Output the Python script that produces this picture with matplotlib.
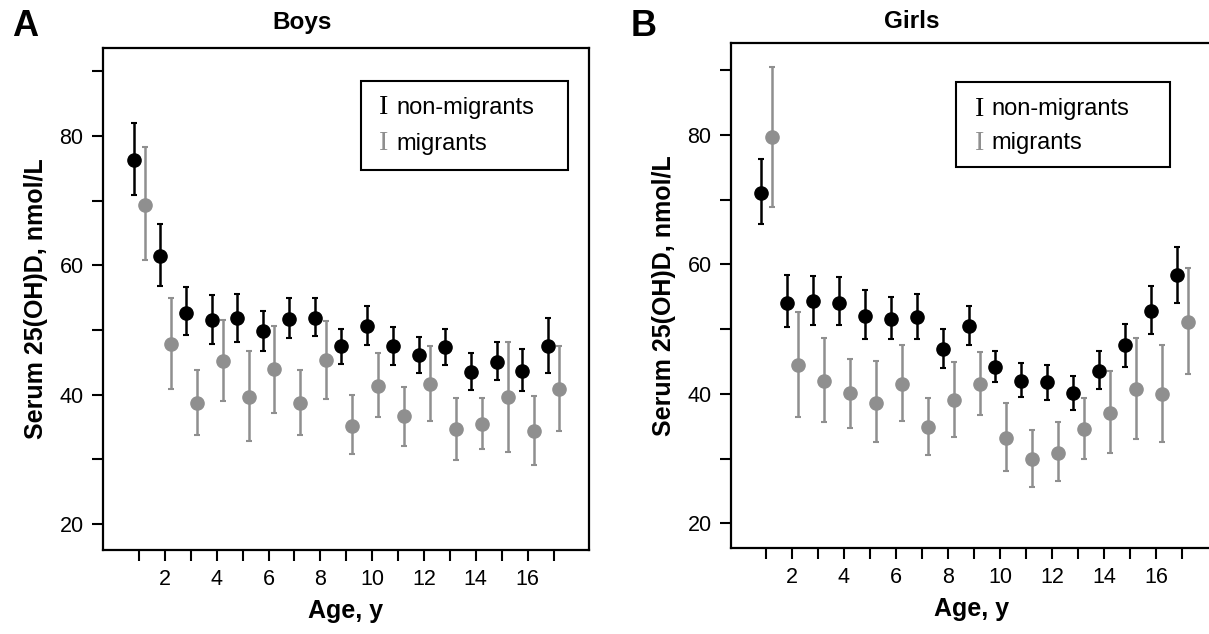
import matplotlib
matplotlib.use("Agg")
import matplotlib.pyplot as plt
from matplotlib.patches import Rectangle
import numpy as np

plt.rcParams['font.family'] = ['Liberation Sans', 'DejaVu Sans']

W, H = 1209, 634

ages = list(range(1, 18))
tick_labels = [str(a) if a % 2 == 0 else '' for a in ages]
y_ticks = [20, 30, 40, 50, 60, 70, 80, 90]
y_tick_labels = ['20', '', '40', '', '60', '', '80', '']

# Boys
boys_nm = [76.3, 61.5, 52.7, 51.5, 51.8, 49.9, 51.7, 51.8, 47.5, 50.6, 47.5, 46.1, 47.4, 43.5, 45.1, 43.7, 47.5]
boys_nm_lo = [70.8, 56.8, 49.2, 47.8, 48.1, 46.7, 48.8, 49.1, 44.8, 47.7, 44.6, 43.4, 44.6, 40.7, 42.3, 40.6, 43.3]
boys_nm_hi = [82.0, 66.4, 56.6, 55.4, 55.5, 53.0, 54.9, 54.9, 50.2, 53.7, 50.5, 48.9, 50.2, 46.5, 48.1, 47.0, 51.8]
boys_m = [69.4, 47.8, 38.7, 45.2, 39.7, 43.9, 38.7, 45.3, 35.2, 41.4, 36.7, 41.6, 34.7, 35.5, 39.7, 34.4, 40.8]
boys_m_lo = [60.8, 40.8, 33.8, 39.0, 32.8, 37.2, 33.8, 39.3, 30.8, 36.6, 32.1, 36.0, 29.9, 31.6, 31.1, 29.1, 34.4]
boys_m_hi = [78.3, 54.9, 43.8, 51.5, 46.7, 50.6, 43.8, 51.4, 39.9, 46.4, 41.2, 47.6, 39.5, 39.5, 48.2, 39.8, 47.5]

# Girls
girls_nm = [71.1, 54.1, 54.3, 54.1, 52.1, 51.5, 51.9, 47.0, 50.5, 44.1, 42.0, 41.8, 40.1, 43.5, 47.5, 52.8, 58.3]
girls_nm_lo = [66.3, 50.3, 50.7, 50.6, 48.5, 48.5, 48.5, 44.0, 47.5, 41.8, 39.5, 39.1, 37.5, 40.7, 44.2, 49.2, 54.1]
girls_nm_hi = [76.3, 58.4, 58.2, 58.0, 56.0, 54.9, 55.5, 50.1, 53.6, 46.6, 44.7, 44.5, 42.8, 46.6, 50.8, 56.7, 62.7]
girls_m = [79.7, 44.5, 42.0, 40.1, 38.6, 41.6, 34.9, 39.1, 41.6, 33.2, 30.0, 30.9, 34.6, 37.0, 40.7, 40.0, 51.1]
girls_m_lo = [68.9, 36.5, 35.7, 34.8, 32.5, 35.8, 30.6, 33.4, 36.8, 28.1, 25.6, 26.5, 30.0, 30.8, 33.1, 32.6, 43.1]
girls_m_hi = [90.5, 52.6, 48.7, 45.4, 45.1, 47.6, 39.4, 44.9, 46.4, 38.6, 34.5, 35.7, 39.4, 43.5, 48.6, 47.5, 59.5]

BLACK = 'black'
GRAY = '#8f8f8f'


def fx(px):
    return px / W


def fy(py):
    return 1 - py / H


def draw_panel(ax, nm, nm_lo, nm_hi, m, m_lo, m_hi, xlim, ylim):
    x = np.array(ages, dtype=float)
    for vals, lo, hi, col, off in [(m, m_lo, m_hi, GRAY, 0.23), (nm, nm_lo, nm_hi, BLACK, -0.2)]:
        vals = np.array(vals)
        yerr = [vals - np.array(lo), np.array(hi) - vals]
        ax.errorbar(x + off, vals, yerr=yerr, fmt='o', color=col, ms=9.5,
                    elinewidth=1.8, capsize=2.2, capthick=1.5)

    ax.set_xlim(*xlim)
    ax.set_ylim(*ylim)
    ax.set_xticks(ages)
    ax.set_xticklabels(tick_labels)
    ax.set_yticks(y_ticks)
    ax.set_yticklabels(y_tick_labels)
    ax.tick_params(direction='out', length=8, width=1.5, labelsize=15.5, pad=6)
    for s in ax.spines.values():
        s.set_linewidth(1.6)
    ax.set_xlabel('Age, y', fontsize=18, fontweight='bold', labelpad=6)
    ax.set_ylabel('Serum 25(OH)D, nmol/L', fontsize=18, fontweight='bold', labelpad=8)


def draw_legend(fig, x0, y0, x1, y1, ix, tx, row1, row2):
    fig.patches.append(Rectangle((fx(x0), fy(y1)), fx(x1) - fx(x0), fy(y0) - fy(y1),
                                 transform=fig.transFigure, fill=False,
                                 edgecolor='black', linewidth=1.5))
    for py, col, label in [(row1, BLACK, 'non-migrants'), (row2, GRAY, 'migrants')]:
        fig.text(fx(ix), fy(py), 'I', color=col, fontsize=20, family='Liberation Serif',
                 ha='left', va='center')
        fig.text(fx(tx), fy(py), label, color='black', fontsize=17, ha='left', va='center')


fig = plt.figure(figsize=(W / 100, H / 100), dpi=100)

ax1 = fig.add_axes([fx(103), fy(550), fx(589) - fx(103), fy(48) - fy(550)])
draw_panel(ax1, boys_nm, boys_nm_lo, boys_nm_hi, boys_m, boys_m_lo, boys_m_hi,
           (-0.39, 18.37), (15.98, 93.6))

ax2 = fig.add_axes([fx(731), fy(548), fx(1212) - fx(731), fy(43) - fy(548)])
draw_panel(ax2, girls_nm, girls_nm_lo, girls_nm_hi, girls_m, girls_m_lo, girls_m_hi,
           (-0.34, 18.15), (16.2, 94.2))

draw_legend(fig, 361, 81, 568, 170, 379, 396, 108, 144)
draw_legend(fig, 956, 82, 1170, 167, 975, 991, 109, 143)

fig.text(fx(12), fy(27), 'A', fontsize=26, fontweight='bold', ha='left', va='center')
fig.text(fx(631), fy(27), 'B', fontsize=26, fontweight='bold', ha='left', va='center')
fig.text(fx(302), fy(22), 'Boys', fontsize=17.5, fontweight='bold', ha='center', va='center')
fig.text(fx(912), fy(22), 'Girls', fontsize=17.5, fontweight='bold', ha='center', va='center')

fig.savefig('out.png', dpi=100, facecolor='white')
